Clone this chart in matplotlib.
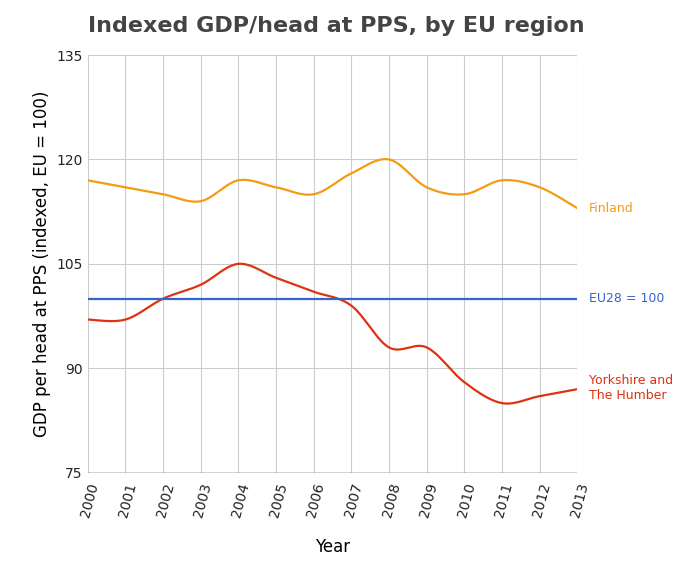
import numpy as np
import matplotlib
matplotlib.use("Agg")
from matplotlib import pyplot as plt

years = list(range(2000, 2014))
finland = [117, 116, 115, 114, 117, 116, 115, 118, 120, 116, 115, 117, 116, 113]
yorkshire = [97, 97, 100, 102, 105, 103, 101, 99, 93, 93, 88, 85, 86, 87]
eu = [100] * len(years)


def smooth(x, y, n=20):
    # catmull-rom curve through the points, for drawing only
    x = np.asarray(x, float)
    y = np.asarray(y, float)
    px = np.concatenate([[x[0]], x, [x[-1]]])
    py = np.concatenate([[y[0]], y, [y[-1]]])
    xs, ys = [], []
    t = np.linspace(0, 1, n, endpoint=False)
    for i in range(1, len(px) - 2):
        for p, out in ((px, xs), (py, ys)):
            p0, p1, p2, p3 = p[i - 1], p[i], p[i + 1], p[i + 2]
            out.extend(0.5 * (2 * p1 + (-p0 + p2) * t
                              + (2 * p0 - 5 * p1 + 4 * p2 - p3) * t ** 2
                              + (-p0 + 3 * p1 - 3 * p2 + p3) * t ** 3))
    xs.append(x[-1])
    ys.append(y[-1])
    return xs, ys


fig = plt.figure(figsize=(6.8, 5.73), dpi=100)
ax = fig.add_axes([0.129, 0.175, 0.72, 0.729])

ax.plot(*smooth(years, finland), color="#f39c12", lw=1.6)
ax.plot(*smooth(years, yorkshire), color="#dd3311", lw=1.6)
ax.plot(years, eu, color="#3366cc", lw=1.6)

ax.set_xlim(2000, 2013)
ax.set_ylim(75, 135)
ax.set_yticks([75, 90, 105, 120, 135])
ax.set_xticks(years)
ax.set_xticklabels([str(y) for y in years], rotation=75, ha="right", rotation_mode="anchor")
ax.grid(True, color="#cccccc", lw=0.8)
ax.set_axisbelow(True)
for s in ax.spines.values():
    s.set_visible(False)
ax.axhline(75, color="#333333", lw=1)
ax.tick_params(length=0, labelsize=10, colors="#222222")
ax.tick_params(axis="x", pad=6)

ax.set_xlabel("Year", fontsize=12, labelpad=14)
ax.set_ylabel("GDP per head at PPS (indexed, EU = 100)", fontsize=12)
fig.text(0.129, 0.955, "Indexed GDP/head at PPS, by EU region", fontsize=16,
         fontweight="bold", color="#444444", va="center")

ax.text(2013.3, finland[-1], "Finland", color="#f39c12", fontsize=9, va="center")
ax.text(2013.3, 100, "EU28 = 100", color="#3366cc", fontsize=9, va="center")
ax.text(2013.3, 87.1, "Yorkshire and\nThe Humber", color="#dd3311", fontsize=9,
        va="center", linespacing=1.2)

fig.savefig("out.png")
